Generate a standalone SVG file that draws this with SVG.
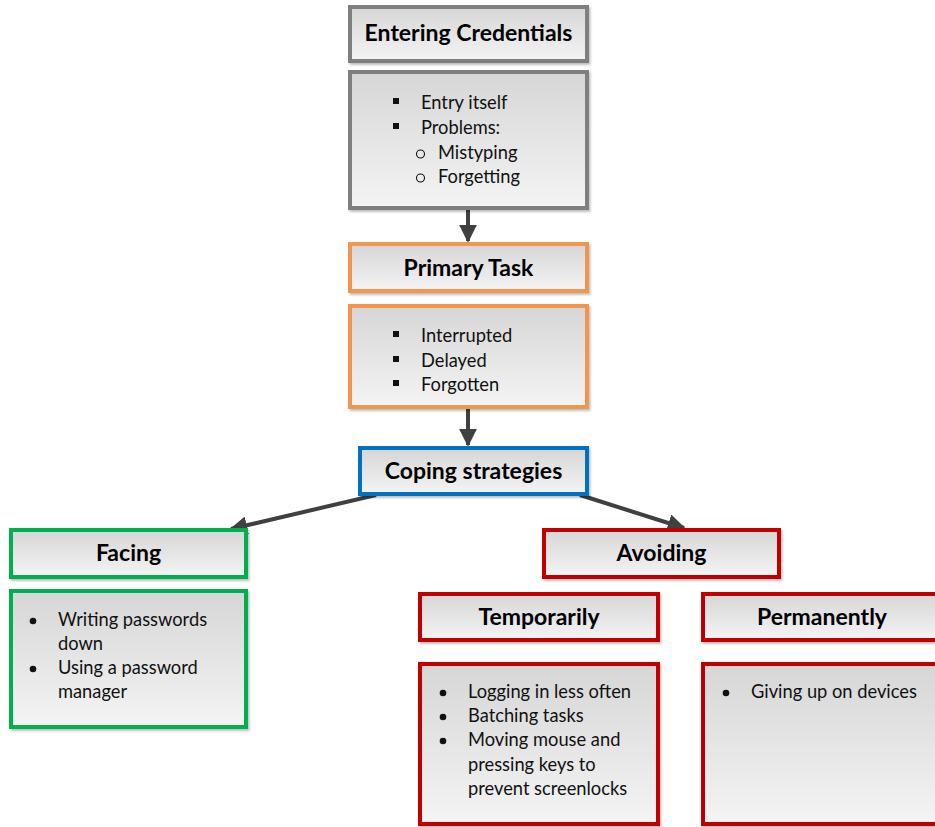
<svg xmlns="http://www.w3.org/2000/svg" width="935" height="827" viewBox="0 0 935 827">
  <defs>
    <linearGradient id="fill" x1="0" y1="0" x2="0" y2="1">
      <stop offset="0" stop-color="#d6d6d6"/>
      <stop offset="1" stop-color="#f4f4f4"/>
    </linearGradient>
    <filter id="shadow" x="-5%" y="-5%" width="115%" height="120%">
      <feDropShadow dx="1.5" dy="2" stdDeviation="1.2" flood-color="#000" flood-opacity="0.25"/>
    </filter>
    <marker id="arrow" viewBox="0 0 10 10" refX="9" refY="5" markerWidth="4.5" markerHeight="4.5" orient="auto" markerUnits="strokeWidth">
      <path d="M0,0 L10,5 L0,10 z" fill="#404040"/>
    </marker>
  </defs>
  <style>
    .box { fill: url(#fill); stroke-width: 4; filter: url(#shadow); }
    .grey { stroke: #7f7f7f; }
    .orange { stroke: #f0974e; }
    .blue { stroke: #0070c0; }
    .green { stroke: #00b050; }
    .red { stroke: #c00000; }
    .title { font-family: Lato, "Open Sans", sans-serif; font-weight: bold; font-size: 23px; fill: #000; text-anchor: middle; }
    .item { font-family: Lato, "Open Sans", sans-serif; font-size: 18.3px; fill: #111; }
    .conn { stroke: #404040; stroke-width: 4; fill: none; marker-end: url(#arrow); }
  </style>

  <g id="connectors">
    <line class="conn" x1="468" y1="209" x2="468" y2="241"/>
    <line class="conn" x1="468" y1="408" x2="468" y2="445"/>
    <line class="conn" x1="376" y1="495" x2="231" y2="529"/>
    <line class="conn" x1="580" y1="495" x2="684" y2="528"/>
  </g>

  <g id="entering-credentials">
    <rect class="box grey" x="350" y="7" width="237" height="54"/>
    <text class="title" x="468.5" y="41">Entering Credentials</text>
  </g>
  <g id="entering-credentials-details">
    <rect class="box grey" x="350" y="72" width="237" height="136"/>
    <rect x="393" y="98" width="6" height="6" fill="#111"/>
    <text class="item" x="421" y="109">Entry itself</text>
    <rect x="393" y="123" width="6" height="6" fill="#111"/>
    <text class="item" x="421" y="134">Problems:</text>
    <circle cx="420.5" cy="154" r="4" fill="none" stroke="#111" stroke-width="1.1"/>
    <text class="item" x="438" y="159">Mistyping</text>
    <circle cx="420.5" cy="178" r="4" fill="none" stroke="#111" stroke-width="1.1"/>
    <text class="item" x="438" y="183">Forgetting</text>
  </g>

  <g id="primary-task">
    <rect class="box orange" x="350" y="244" width="237" height="47"/>
    <text class="title" x="468.5" y="276">Primary Task</text>
  </g>
  <g id="primary-task-details">
    <rect class="box orange" x="350" y="306" width="237" height="101"/>
    <rect x="393" y="331" width="6" height="6" fill="#111"/>
    <text class="item" x="421" y="342">Interrupted</text>
    <rect x="393" y="356" width="6" height="6" fill="#111"/>
    <text class="item" x="421" y="367">Delayed</text>
    <rect x="393" y="380" width="6" height="6" fill="#111"/>
    <text class="item" x="421" y="391">Forgotten</text>
  </g>

  <g id="coping-strategies">
    <rect class="box blue" x="360" y="448" width="227" height="46"/>
    <text class="title" x="473.5" y="479">Coping strategies</text>
  </g>

  <g id="facing">
    <rect class="box green" x="11" y="530" width="235" height="47"/>
    <text class="title" x="128.5" y="561">Facing</text>
  </g>
  <g id="facing-details">
    <rect class="box green" x="11" y="591" width="235" height="136"/>
    <circle cx="33" cy="621" r="3.3" fill="#111"/>
    <text class="item" x="58" y="626">Writing passwords</text>
    <text class="item" x="58" y="650">down</text>
    <circle cx="33" cy="669" r="3.3" fill="#111"/>
    <text class="item" x="58" y="674">Using a password</text>
    <text class="item" x="58" y="698">manager</text>
  </g>

  <g id="avoiding">
    <rect class="box red" x="544" y="530" width="235" height="47"/>
    <text class="title" x="661.5" y="561">Avoiding</text>
  </g>

  <g id="temporarily">
    <rect class="box red" x="420" y="594" width="238" height="46"/>
    <text class="title" x="539" y="625">Temporarily</text>
  </g>
  <g id="temporarily-details">
    <rect class="box red" x="420" y="664" width="238" height="160"/>
    <circle cx="443" cy="693" r="3.3" fill="#111"/>
    <text class="item" x="468" y="698">Logging in less often</text>
    <circle cx="443" cy="717" r="3.3" fill="#111"/>
    <text class="item" x="468" y="722">Batching tasks</text>
    <circle cx="443" cy="741" r="3.3" fill="#111"/>
    <text class="item" x="468" y="746">Moving mouse and</text>
    <text class="item" x="468" y="771">pressing keys to</text>
    <text class="item" x="468" y="795">prevent screenlocks</text>
  </g>

  <g id="permanently">
    <rect class="box red" x="703" y="594" width="240" height="46"/>
    <text class="title" x="822" y="625">Permanently</text>
  </g>
  <g id="permanently-details">
    <rect class="box red" x="703" y="664" width="240" height="160"/>
    <circle cx="726" cy="693" r="3.3" fill="#111"/>
    <text class="item" x="751" y="698">Giving up on devices</text>
  </g>
</svg>
